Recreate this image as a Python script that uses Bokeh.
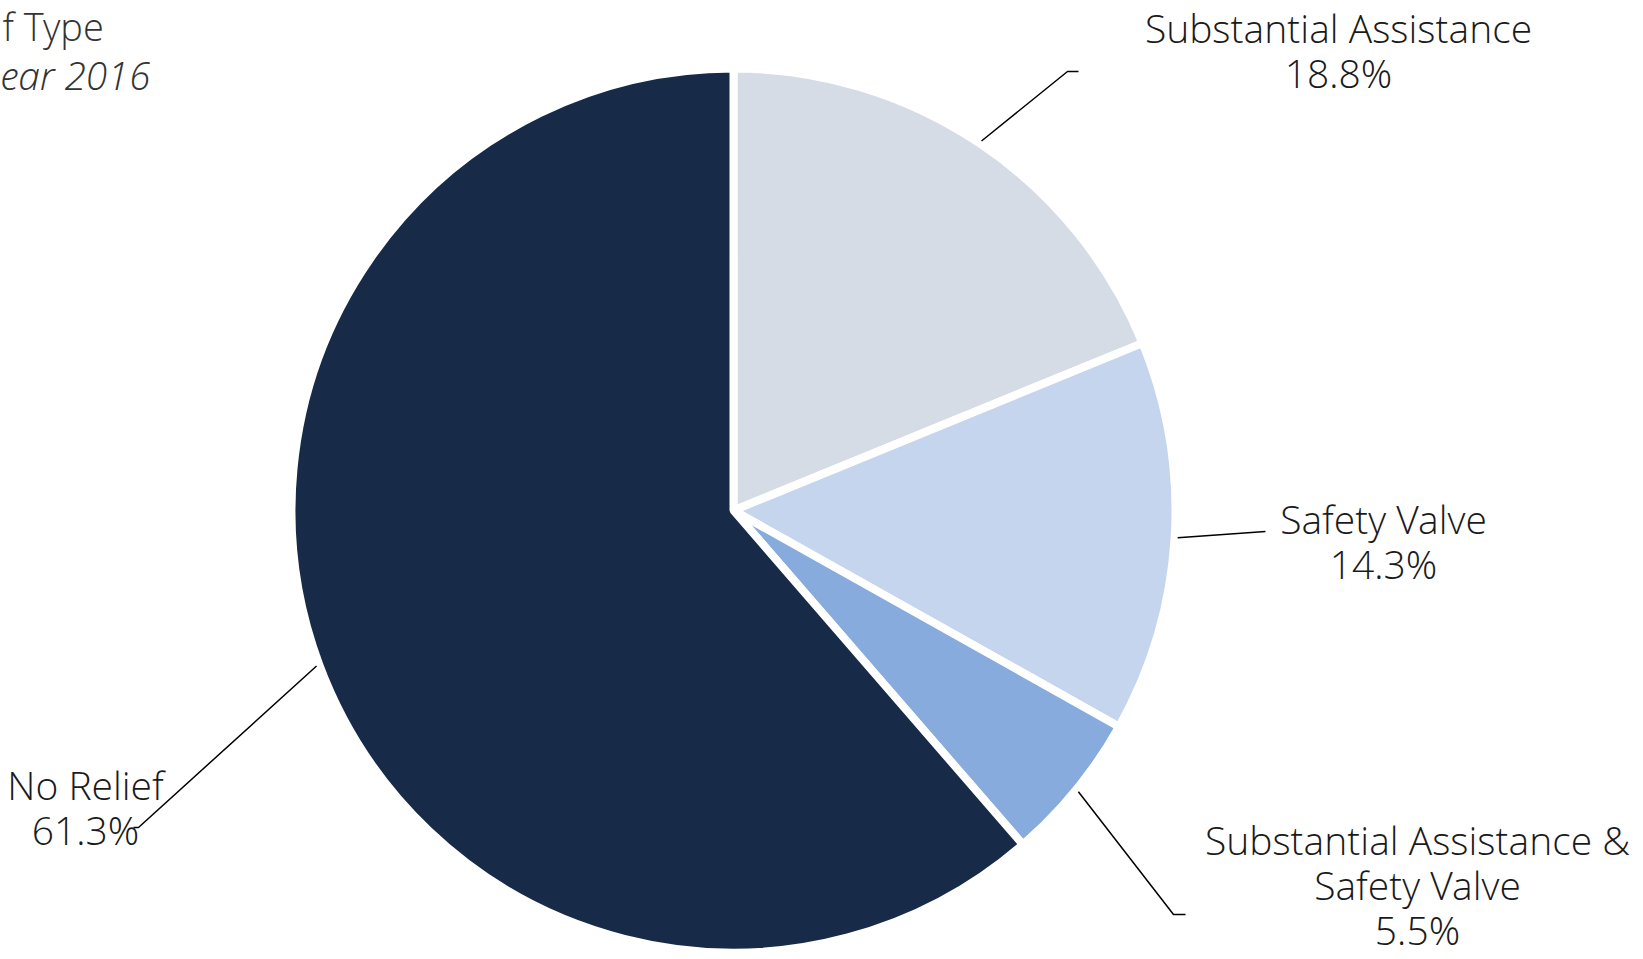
import math
from bokeh.plotting import figure
from bokeh.models import Range1d
from bokeh.core.properties import value
from bokeh.embed import file_html
from bokeh.resources import INLINE

# ---- data ----
categories = ["Substantial Assistance", "Safety Valve",
              "Substantial Assistance & Safety Valve", "No Relief"]
shares = [18.8, 14.3, 5.5, 61.3]
colors = ["#D6DCE5", "#C5D5EE", "#88ABDD", "#172A48"]
label_lines = [["Substantial Assistance"], ["Safety Valve"],
               ["Substantial Assistance &", "Safety Valve"], ["No Relief"]]
title_lines = ["f Type", "ear 2016"]

# ---- layout (page pixel coords) ----
W, H = 1643, 959
CX, CY, R = 733, 510, 442
FONT = "Open Sans Light"
DY = -15  # text baseline correction
label_pos = [(1338, 42), (1383, 533), (1417, 854), (85, 799)]
line_gap = 45
elbows = [[(1067, 71), (1078, 71)],
          [(1265, 531)],
          [(1173, 914), (1185, 914)],
          [(138, 827), (133, 827)]]

p = figure(width=W, height=H, output_backend="svg", toolbar_location=None,
           x_range=Range1d(0, W), y_range=Range1d(-H, 0),
           x_axis_type=None, y_axis_type=None, min_border=0,
           background_fill_color="white", border_fill_color="white")
p.outline_line_color = None
p.grid.visible = False

total = sum(shares)
starts, ends, mids = [], [], []
a = math.pi / 2
for s in shares:
    sweep = 2 * math.pi * s / total
    starts.append(a)
    ends.append(a - sweep)
    mids.append(a - sweep / 2)
    a -= sweep

p.wedge(x=[CX] * 4, y=[-CY] * 4, radius=R, radius_units="screen",
        start_angle=starts, end_angle=ends, direction="clock",
        fill_color=colors, line_color="white", line_width=8)

# leader lines
for m, pts in zip(mids, elbows):
    sx = CX + (R + 3) * math.cos(m)
    sy = CY - (R + 3) * math.sin(m)
    xs = [sx] + [q[0] for q in pts]
    ys = [-sy] + [-q[1] for q in pts]
    p.line(xs, ys, line_color="black", line_width=1.5)

# labels
tx, ty, tt = [], [], []
for (lx, ly), lines, s in zip(label_pos, label_lines, shares):
    allines = lines + [f"{s:.1f}%"]
    for i, t in enumerate(allines):
        tx.append(lx)
        ty.append(-(ly + DY + i * line_gap))
        tt.append(t)
p.text(x=tx, y=ty, text=tt, text_align="center", text_baseline="alphabetic",
       text_font=value(FONT), text_font_size="39px", text_color="#1a1a1a")

# title (partially cut in the reference)
p.text(x=[2], y=[-(40 + DY)], text=[title_lines[0]], text_align="left",
       text_baseline="alphabetic", text_font=value(FONT),
       text_font_size="38px", text_color="#333333")
p.text(x=[0], y=[-(89 + DY)], text=[title_lines[1]], text_align="left",
       text_baseline="alphabetic", text_font=value(FONT),
       text_font_size="39px", text_font_style="italic", text_color="#333333")

open("out.html", "w").write(file_html(p, INLINE))
